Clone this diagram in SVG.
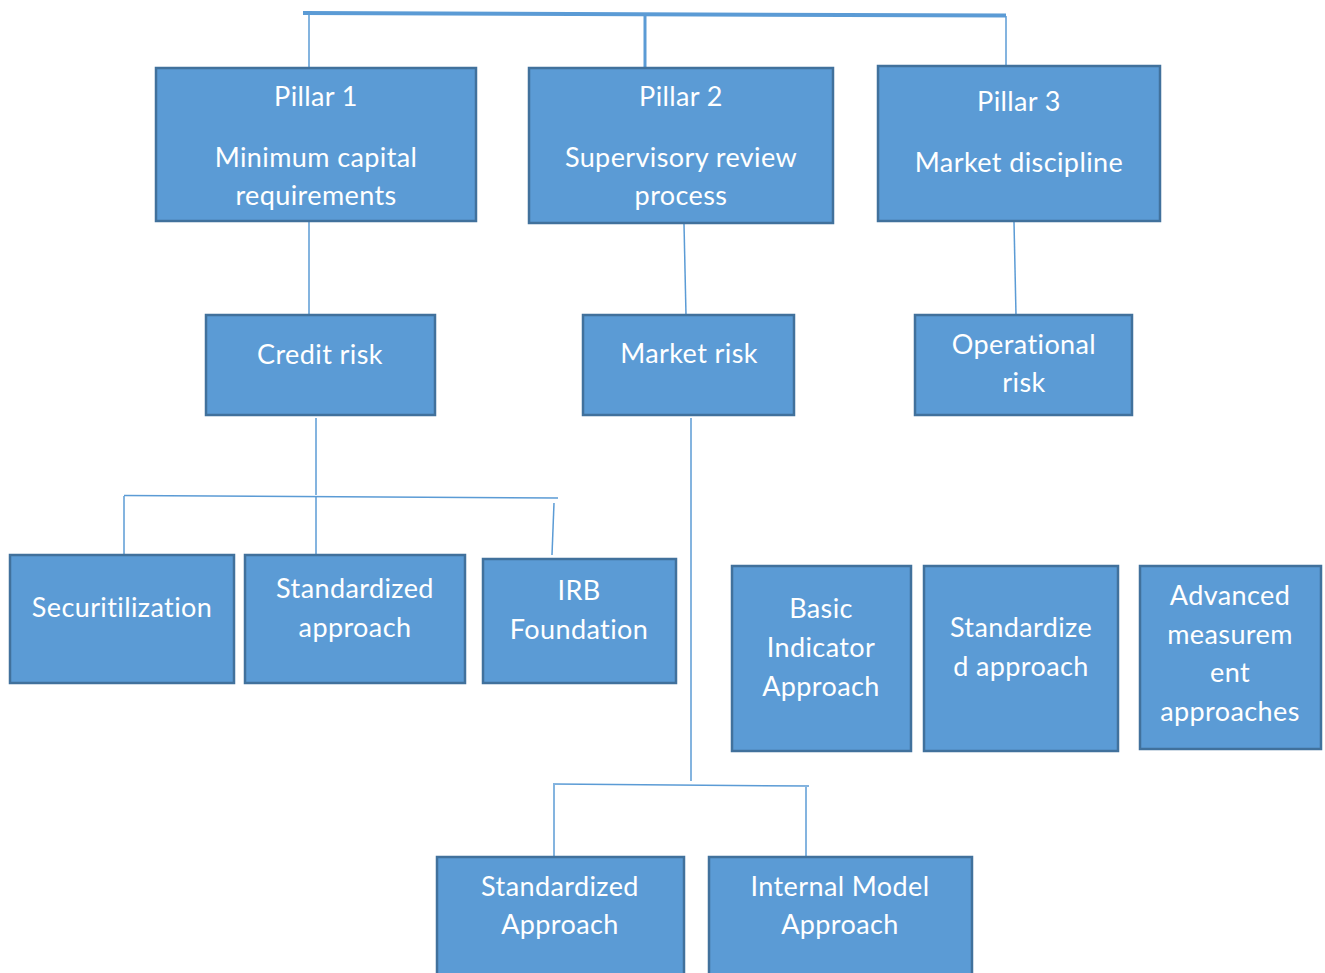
<svg xmlns="http://www.w3.org/2000/svg" width="1325" height="973" viewBox="0 0 1325 973">
<style>
.box{fill:#5B9BD5;stroke:#41719C;stroke-width:2.5}
.t{font-family:Lato,"Open Sans","Liberation Sans",sans-serif;font-size:27px;letter-spacing:0.4px;fill:#ffffff;text-anchor:middle}
.c{stroke:#5B9BD5;stroke-width:1.5;fill:none}
.ct{stroke:#5B9BD5;stroke-width:4;fill:none}
.cm{stroke:#5B9BD5;stroke-width:3;fill:none}
</style>
<rect width="1325" height="973" fill="#ffffff"/>
<g id="connectors">
<path class="ct" d="M303 13 L1006 15.5"/>
<path class="c" d="M309 14 V68"/>
<path class="cm" d="M645 15 V68"/>
<path class="c" d="M1006 16 V66"/>
<path class="c" d="M309 222 V315"/>
<path class="c" d="M684 224 L686 315"/>
<path class="c" d="M1014 222 L1016 315"/>
<path class="c" d="M316 418 V495"/>
<path class="c" d="M124 495.5 L558 498"/>
<path class="c" d="M124 496 V555"/>
<path class="c" d="M316 496 V555"/>
<path class="c" d="M554 503 L552 555"/>
<path class="c" d="M691 418 V781"/>
<path class="c" d="M553 784 L809 786"/>
<path class="c" d="M554 785 V857"/>
<path class="c" d="M806 787 V857"/>
</g>
<g id="pillar1"><rect class="box" x="156" y="68" width="320" height="153"/><text class="t" x="316" y="106">Pillar 1</text><text class="t" x="316" y="167">Minimum capital</text><text class="t" x="316" y="205">requirements</text></g>
<g id="pillar2"><rect class="box" x="529" y="68" width="304" height="155"/><text class="t" x="681" y="106">Pillar 2</text><text class="t" x="681" y="167">Supervisory review</text><text class="t" x="681" y="205">process</text></g>
<g id="pillar3"><rect class="box" x="878" y="66" width="282" height="155"/><text class="t" x="1019" y="111">Pillar 3</text><text class="t" x="1019" y="172">Market discipline</text></g>
<g id="credit"><rect class="box" x="206" y="315" width="229" height="100"/><text class="t" x="320" y="364">Credit risk</text></g>
<g id="market"><rect class="box" x="583" y="315" width="211" height="100"/><text class="t" x="689" y="363">Market risk</text></g>
<g id="operational"><rect class="box" x="915" y="315" width="217" height="100"/><text class="t" x="1024" y="354">Operational</text><text class="t" x="1024" y="392">risk</text></g>
<g id="securitilization"><rect class="box" x="10" y="555" width="224" height="128"/><text class="t" x="122" y="617">Securitilization</text></g>
<g id="standardized-credit"><rect class="box" x="245" y="555" width="220" height="128"/><text class="t" x="355" y="598">Standardized</text><text class="t" x="355" y="637">approach</text></g>
<g id="irb"><rect class="box" x="483" y="559" width="193" height="124"/><text class="t" x="579" y="600">IRB</text><text class="t" x="579" y="639">Foundation</text></g>
<g id="basic"><rect class="box" x="732" y="566" width="179" height="185"/><text class="t" x="821" y="618">Basic</text><text class="t" x="821" y="657">Indicator</text><text class="t" x="821" y="696">Approach</text></g>
<g id="standardized-op"><rect class="box" x="924" y="566" width="194" height="185"/><text class="t" x="1021" y="637">Standardize</text><text class="t" x="1021" y="676">d approach</text></g>
<g id="advanced"><rect class="box" x="1140" y="566" width="181" height="183"/><text class="t" x="1230" y="605">Advanced</text><text class="t" x="1230" y="644">measurem</text><text class="t" x="1230" y="682">ent</text><text class="t" x="1230" y="721">approaches</text></g>
<g id="standardized-market"><rect class="box" x="437" y="857" width="247" height="120"/><text class="t" x="560" y="896">Standardized</text><text class="t" x="560" y="934">Approach</text></g>
<g id="internal"><rect class="box" x="709" y="857" width="263" height="120"/><text class="t" x="840" y="896">Internal Model</text><text class="t" x="840" y="934">Approach</text></g>
</svg>
